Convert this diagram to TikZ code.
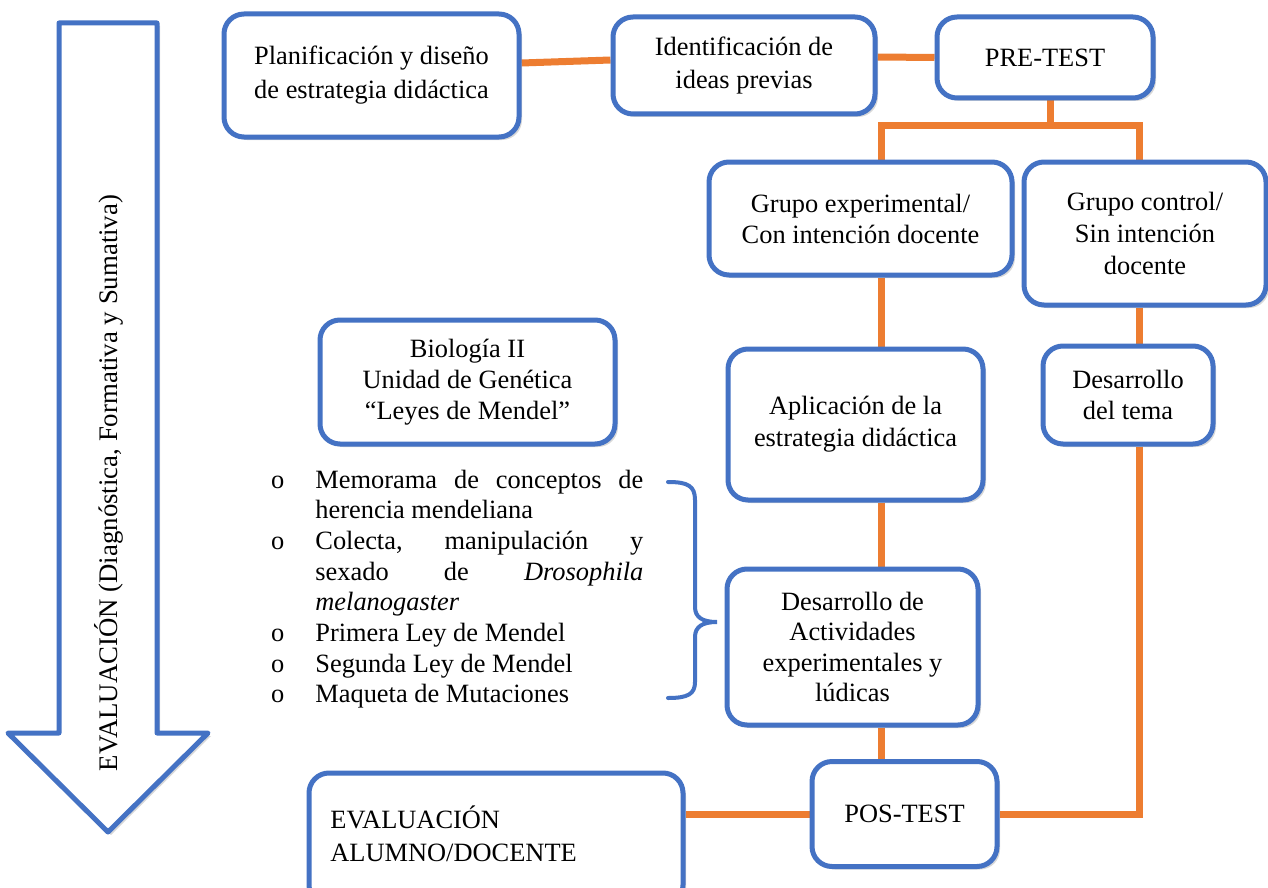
\documentclass[tikz,border=0pt]{standalone}
\usepackage{fontspec}
\setmainfont{Liberation Serif}
\usetikzlibrary{shadows,calc}
\definecolor{myblue}{RGB}{68,114,196}
\definecolor{myorange}{RGB}{237,125,49}
\newcommand{\fsz}{\fontsize{13.2}{15.5}\selectfont}
\newcommand{\lbul}{\llap{o\hspace{15.5pt}}}
\pgfdeclarelayer{bg}
\pgfsetlayers{bg,main}
\begin{document}
\begin{tikzpicture}[x=0.5pt,y=-0.5pt,
  box/.style={draw=myblue, line width=2.5pt, rounded corners=10pt, fill=white, align=center, inner sep=2pt, font=\fsz,
    drop shadow={opacity=0.3, shadow xshift=1.5pt, shadow yshift=-1.5pt}},
  conn/.style={draw=myorange, line width=3.5pt},
  bigarrow/.style={draw=myblue, line width=2.5pt, fill=white, line join=round,
    drop shadow={opacity=0.3, shadow xshift=1.5pt, shadow yshift=-1.5pt}},
  bracestyle/.style={draw=myblue, line width=2pt, line cap=round}]
\useasboundingbox (0,0) rectangle (1268,888);
\begin{pgfonlayer}{bg}
\fill[white] (0,0) rectangle (1268,888);
\end{pgfonlayer}

% big evaluation arrow
\path[bigarrow] (59,23) -- (157,23) -- (157,733) -- (208,733) -- (108,832) -- (8,733) -- (59,733) -- cycle;
\node[rotate=90, font=\fontsize{13.4}{16}\selectfont] (evtxt) at (109,483) {EVALUACIÓN (Diagnóstica, Formativa y Sumativa)};

% boxes
\node[box, minimum width=147.5pt, minimum height=61.5pt, font=\fontsize{13.2}{17}\selectfont] (plan) at (371.5,75.5) {Planificación y diseño\\de estrategia didáctica};
\node[box, minimum width=131pt, minimum height=48.5pt, font=\fontsize{13.2}{16.5}\selectfont] (ident) at (744,65.5) {Identificación de\\ideas previas};
\node[box, minimum width=108pt, minimum height=40.5pt] (pre) at (1045,57.5) {PRE-TEST};
\node[box, minimum width=151.5pt, minimum height=56.5pt] (exp) at (860.5,218.5) {Grupo experimental/\\Con intención docente};
\node[box, minimum width=121pt, minimum height=71.5pt, font=\fontsize{13.2}{16}\selectfont] (ctrl) at (1145,233.5) {Grupo control/\\Sin intención\\docente};
\node[box, minimum width=147.5pt, minimum height=62pt] (bio) at (467.5,382) {Biología II\\Unidad de Genética\\“Leyes de Mendel”};
\node[box, minimum width=127.5pt, minimum height=75.5pt, font=\fontsize{13.2}{16}\selectfont] (aplic) at (855.5,424.5) {Aplicación de la\\estrategia didáctica};
\node[box, minimum width=85pt, minimum height=49pt] (tema) at (1128,395) {Desarrollo\\del tema};
\node[box, minimum width=125.5pt, minimum height=78pt, font=\fontsize{13.2}{15.2}\selectfont] (act) at (852.5,647) {Desarrollo de\\Actividades\\experimentales y\\lúdicas};
\node[box, minimum width=92.5pt, minimum height=52.5pt] (pos) at (904.5,814) {POS-TEST};
\node[box, minimum width=187pt, minimum height=66pt] (eval) at (496,839) {};
\node[anchor=west, align=left, inner sep=0pt, font=\fontsize{13.2}{16.5}\selectfont] (evaltext) at (330,833.5) {EVALUACIÓN\\ALUMNO/DOCENTE};

% activity list
\node[anchor=base west, inner sep=0pt, font=\fsz] (list) at (315,488) {\parbox[t]{164pt}{\fontsize{13.2}{15.35}\selectfont
\hbox to 164pt{\lbul Memorama\hfill de\hfill conceptos\hfill de}
\hbox to 164pt{herencia mendeliana\hfill}
\hbox to 164pt{\lbul Colecta,\hfill manipulación\hfill y}
\hbox to 164pt{sexado\hfill de\hfill \textit{Drosophila}}
\hbox to 164pt{\textit{melanogaster}\hfill}
\hbox to 164pt{\lbul Primera Ley de Mendel\hfill}
\hbox to 164pt{\lbul Segunda Ley de Mendel\hfill}
\hbox to 164pt{\lbul Maqueta de Mutaciones\hfill}}};

% brace
\path[bracestyle] (668,482) .. controls (688,482) and (695,486) .. (695,500) -- (695,607)
  .. controls (695,617) and (702,622) .. (717,622)
  .. controls (702,622) and (695,627) .. (695,637) -- (695,682)
  .. controls (695,694) and (688,698) .. (668,698);

% connectors
\begin{pgfonlayer}{bg}
\coordinate (jn) at (1050,126);
\coordinate (vx) at (881,0);
\coordinate (vr) at (1139,0);
\draw[conn] ([yshift=6.25pt]plan.east) -- ([yshift=2.75pt]ident.west);
\draw[conn] ([yshift=4.25pt]ident.east) -- (pre.west);
\draw[conn] ([xshift=2.5pt]pre.south) -- (jn);
\draw[conn] (vx |- exp.north) -- (vx |- jn) -- (vr |- jn) -- (vr |- ctrl.north);
\draw[conn] (vx |- exp.south) -- (vx |- aplic.north);
\draw[conn] (vx |- aplic.south) -- (vx |- act.north);
\draw[conn] (vx |- act.south) -- (vx |- pos.north);
\draw[conn] (vr |- ctrl.south) -- (vr |- tema.north);
\draw[conn] (vr |- tema.south) |- (pos.east);
\draw[conn] (pos.west) -- (eval.east |- pos.west);
\end{pgfonlayer}
\end{tikzpicture}
\end{document}
